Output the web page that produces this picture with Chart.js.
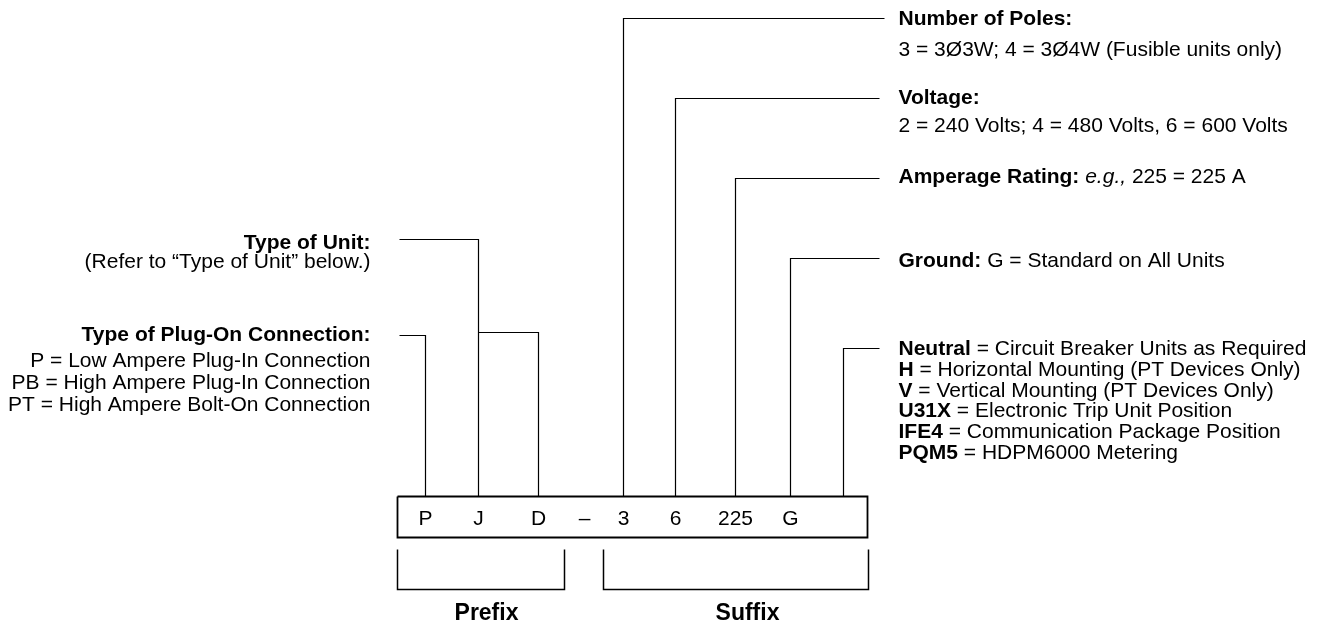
<!DOCTYPE html>
<html>
  <head>
    <title>Catalog Number Breakdown</title>
    <script src="https://cdn.jsdelivr.net/npm/chart.js@4.4.1/dist/chart.umd.min.js"></script>
    <style>
      body { margin: 0; background: #fff; }
      #container { width: 1318px; height: 622px; }
    </style>
  </head>
  <body>
    <div id="container">
      <canvas id="canvas"></canvas>
    </div>
    <script>
      // code characters in the box and where each one sits along the strip
      const codeChars = ['P', 'J', 'D', '–', '3', '6', '225', 'G', ''];
      const codeX = [425, 478, 538, 584, 623, 675, 735, 790, 843];

      // leader lines: which character they start from, the level they turn at, where they end
      const leftLeaders = [
        { from: 0, level: 335, to: 399 },   // Type of Plug-On Connection
        { from: 1, level: 239, to: 399 },   // Type of Unit
      ];
      const branchLeaders = [
        { from: 1, level: 332, toChar: 2 }, // J -> D
      ];
      const rightLeaders = [
        { from: 4, level: 18, to: 884 },    // Number of Poles
        { from: 5, level: 98, to: 879 },    // Voltage
        { from: 6, level: 178, to: 879 },   // Amperage Rating
        { from: 7, level: 258, to: 879 },   // Ground
        { from: 8, level: 348, to: 879 },   // Neutral
      ];

      const box = { left: 397, right: 867, top: 496, bottom: 537 };
      const brackets = [
        { left: 397, right: 564, top: 549, bottom: 589, label: 'Prefix', labelX: 486 },
        { left: 603, right: 868, top: 549, bottom: 589, label: 'Suffix', labelX: 747 },
      ];

      // description texts: runs of [style, text]  (b = bold, i = italic, n = normal)
      const rightNotes = [
        { y: 24, runs: [['b', 'Number of Poles:']] },
        { y: 55, runs: [['n', '3 = 3Ø3W; 4 = 3Ø4W (Fusible units only)']] },
        { y: 103, runs: [['b', 'Voltage:']] },
        { y: 131.5, runs: [['n', '2 = 240 Volts; 4 = 480 Volts, 6 = 600 Volts']] },
        { y: 182.5, runs: [['b', 'Amperage Rating: '], ['i', 'e.g.,'], ['n', ' 225 = 225 A']] },
        { y: 266.5, runs: [['b', 'Ground: '], ['n', 'G = Standard on All Units']] },
        { y: 354, runs: [['b', 'Neutral'], ['n', ' = Circuit Breaker Units as Required']] },
        { y: 375, runs: [['b', 'H'], ['n', ' = Horizontal Mounting (PT Devices Only)']] },
        { y: 396, runs: [['b', 'V'], ['n', ' = Vertical Mounting (PT Devices Only)']] },
        { y: 416.5, runs: [['b', 'U31X'], ['n', ' = Electronic Trip Unit Position']] },
        { y: 437.5, runs: [['b', 'IFE4'], ['n', ' = Communication Package Position']] },
        { y: 458.5, runs: [['b', 'PQM5'], ['n', ' = HDPM6000 Metering']] },
      ];
      const leftNotes = [
        { y: 248.5, runs: [['b', 'Type of Unit:']] },
        { y: 267, runs: [['n', '(Refer to “Type of Unit” below.)']] },
        { y: 340.5, runs: [['b', 'Type of Plug-On Connection:']] },
        { y: 366.5, runs: [['n', 'P = Low Ampere Plug-In Connection']] },
        { y: 388, runs: [['n', 'PB = High Ampere Plug-In Connection']] },
        { y: 410, runs: [['n', 'PT = High Ampere Bolt-On Connection']] },
      ];
      const rightTextX = 898;
      const leftTextX = 370;

      const FONT = '"Liberation Sans", Arial, Helvetica, sans-serif';
      const INK = '#000';

      function seg(points, width) {
        return {
          data: points.map(([x, y]) => ({ x, y })),
          showLine: true,
          borderColor: INK,
          borderWidth: width || 1.2,
          pointRadius: 0,
          fill: false,
          tension: 0,
        };
      }

      const datasets = [];
      leftLeaders.forEach(l => {
        const x = codeX[l.from];
        datasets.push(seg([[l.to, l.level], [x, l.level], [x, box.top]]));
      });
      branchLeaders.forEach(l => {
        const x0 = codeX[l.from], x1 = codeX[l.toChar];
        datasets.push(seg([[x0, l.level], [x1, l.level], [x1, box.top]]));
      });
      rightLeaders.forEach(l => {
        const x = codeX[l.from];
        datasets.push(seg([[x, box.top], [x, l.level], [l.to, l.level]]));
      });
      datasets.push(seg([
        [box.left, box.top], [box.right, box.top], [box.right, box.bottom],
        [box.left, box.bottom], [box.left, box.top],
      ], 1.8));
      brackets.forEach(b => {
        datasets.push(seg([[b.left, b.top], [b.left, b.bottom], [b.right, b.bottom], [b.right, b.top]], 1.5));
      });

      function fontFor(style, size) {
        if (style === 'b') return 'bold ' + size + 'px ' + FONT;
        if (style === 'i') return 'italic ' + size + 'px ' + FONT;
        return size + 'px ' + FONT;
      }

      function drawRuns(ctx, runs, x, y, align) {
        let total = 0;
        runs.forEach(([s, t]) => { ctx.font = fontFor(s, 21); total += ctx.measureText(t).width; });
        let cx = align === 'right' ? x - total : x;
        runs.forEach(([s, t]) => {
          ctx.font = fontFor(s, 21);
          ctx.fillText(t, cx, y);
          cx += ctx.measureText(t).width;
        });
      }

      const labelsPlugin = {
        id: 'labels',
        afterDatasetsDraw(chart) {
          const { ctx, scales: { x, y } } = chart;
          ctx.save();
          ctx.fillStyle = INK;
          ctx.textAlign = 'left';
          ctx.textBaseline = 'alphabetic';
          rightNotes.forEach(n => drawRuns(ctx, n.runs, x.getPixelForValue(rightTextX), y.getPixelForValue(n.y), 'left'));
          leftNotes.forEach(n => drawRuns(ctx, n.runs, x.getPixelForValue(leftTextX), y.getPixelForValue(n.y), 'right'));

          ctx.textAlign = 'center';
          ctx.font = fontFor('n', 21);
          codeChars.forEach((c, i) => ctx.fillText(c, x.getPixelForValue(codeX[i]), y.getPixelForValue(524)));

          ctx.font = fontFor('b', 23);
          brackets.forEach(b => ctx.fillText(b.label, x.getPixelForValue(b.labelX), y.getPixelForValue(619)));
          ctx.restore();
        },
      };

      const ctx = document.getElementById('canvas').getContext('2d');
      new Chart(ctx, {
        type: 'scatter',
        data: { datasets },
        options: {
          responsive: true,
          maintainAspectRatio: false,
          animation: false,
          layout: { padding: 0 },
          plugins: { legend: { display: false }, tooltip: { enabled: false } },
          scales: {
            // half-pixel shift keeps the thin leader lines crisp
            x: { type: 'linear', min: -0.5, max: 1317.5, display: false },
            y: { type: 'linear', min: -0.5, max: 621.5, reverse: true, display: false },
          },
        },
        plugins: [labelsPlugin],
      });
    </script>
  </body>
</html>
